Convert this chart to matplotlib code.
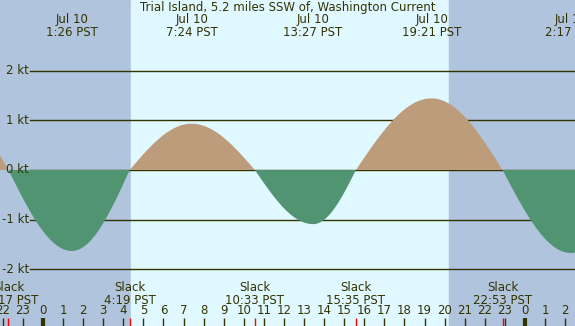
import numpy as np
import matplotlib
matplotlib.use("Agg")
import matplotlib.pyplot as plt
import matplotlib.transforms as mtransforms

# tide current events, hours from Jul 10 00:00 PST
event_hours = [-4.9, -1.717, 1.433, 4.317, 7.4, 10.55, 13.45, 15.583, 19.35, 22.883, 26.283, 29.5]
event_kt = [1.40, 0.0, -1.63, 0.0, 0.93, 0.0, -1.09, 0.0, 1.44, 0.0, -1.67, 0.0]

max_hours = [1.433, 7.4, 13.45, 19.35, 26.283]
max_labels = ["Jul 10\n1:26 PST", "Jul 10\n7:24 PST", "Jul 10\n13:27 PST",
              "Jul 10\n19:21 PST", "Jul 11\n2:17 PST"]
slack_hours = [-1.717, 4.317, 10.55, 15.583, 22.883]
slack_labels = ["Slack\n22:17 PST", "Slack\n4:19 PST", "Slack\n10:33 PST",
                "Slack\n15:35 PST", "Slack\n22:53 PST"]
sunrise, sunset = 4.38, 20.22
kt_levels = [2, 1, 0, -1, -2]

title = "Trial Island, 5.2 miles SSW of, Washington Current"
x0, x1 = -2.14, 26.49
ink = "#333300"

# quarter-sine segments between slack and max events
t = []
v = []
for i in range(len(event_hours) - 1):
    ta, tb = event_hours[i], event_hours[i + 1]
    va, vb = event_kt[i], event_kt[i + 1]
    s = np.linspace(0, 1, 80)
    t.append(ta + (tb - ta) * s)
    if va == 0:
        v.append(vb * np.sin(np.pi / 2 * s))
    else:
        v.append(va * np.cos(np.pi / 2 * s))
t = np.concatenate(t)
v = np.concatenate(v)

fig = plt.figure(figsize=(5.75, 3.26), dpi=100)
ax = fig.add_axes([0, 0, 1, 1])
ax.set_xlim(x0, x1)
ax.set_ylim(-3.14, 3.42)
ax.axis("off")

ax.axvspan(x0, sunrise, color="#b0c4de", zorder=0)
ax.axvspan(sunrise, sunset, color="#e0f8ff", zorder=0)
ax.axvspan(sunset, x1, color="#b0c4de", zorder=0)

# level lines and labels
xstart = x0 + 30 / 20.08
for k in kt_levels:
    ax.plot([xstart, x1], [k, k], color=ink, lw=1, zorder=1)
    ax.text(xstart - 0.05, k, f"{k} kt", ha="right", va="center",
            fontsize=8.5, color=ink, zorder=4)

ax.fill_between(t, 0, v, where=v >= 0, color="#bd9c7c", lw=0, zorder=2, interpolate=True)
ax.fill_between(t, 0, v, where=v <= 0, color="#519472", lw=0, zorder=2, interpolate=True)

tr = mtransforms.blended_transform_factory(ax.transData, fig.transFigure)

ax.text(0.5, 1 - 8 / 326, title, transform=fig.transFigure, ha="center",
        va="center", fontsize=8.5, color=ink)
for h, lab in zip(max_hours, max_labels):
    ax.text(h, 1 - 26 / 326, lab, transform=tr, ha="center", va="center",
            fontsize=8.5, color=ink, linespacing=0.95)
for h, lab in zip(slack_hours, slack_labels):
    ax.text(h, 1 - 294 / 326, lab, transform=tr, ha="center", va="center",
            fontsize=8.5, color=ink, linespacing=0.95)

# hour ticks
for h in range(-2, 27):
    ax.text(h, 1 - 311 / 326, str(h % 24), transform=tr, ha="center",
            va="center", fontsize=8.5, color=ink)
    lw = 3 if h % 24 == 0 else 1
    ax.plot([h, h], [0, 8 / 326], transform=tr, color=ink, lw=lw, zorder=3,
            solid_capstyle="butt")
for h in slack_hours:
    ax.plot([h, h], [0, 8 / 326], transform=tr, color="red", lw=1, zorder=3,
            solid_capstyle="butt")

fig.savefig("out.png", dpi=100)
